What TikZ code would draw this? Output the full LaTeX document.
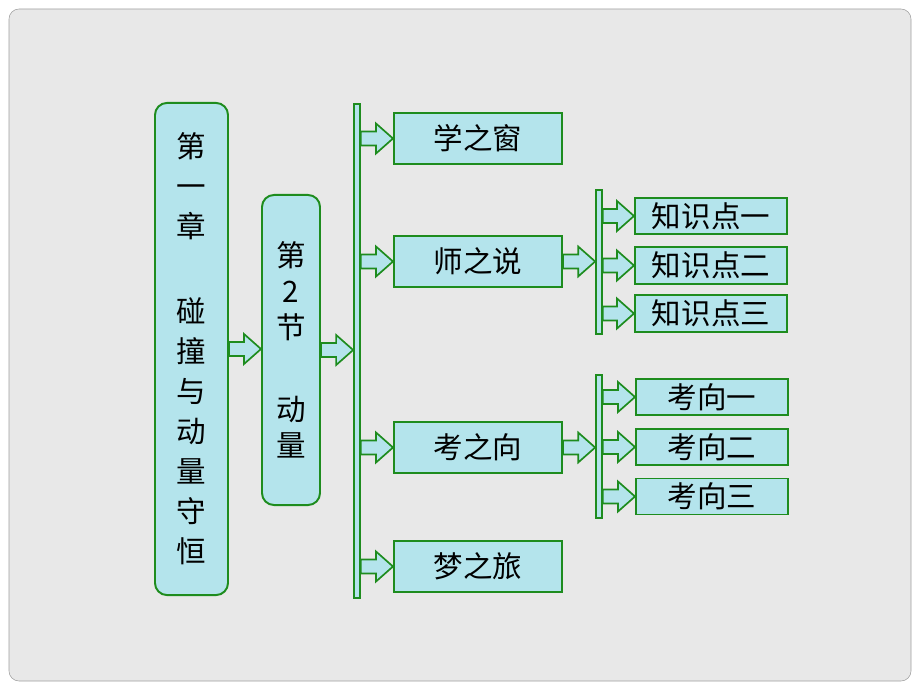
\documentclass[tikz,border=0pt]{standalone}
\usepackage{fontspec}
\usepackage{tikz}
\usetikzlibrary{calc}
\newfontfamily\cjk{Noto Sans CJK SC}

\definecolor{boxgreen}{RGB}{30,140,30}
\definecolor{boxfill}{RGB}{180,228,236}
\definecolor{slide}{RGB}{232,232,232}
\definecolor{slideedge}{RGB}{160,160,160}

\tikzset{
  box/.style={draw=boxgreen, fill=boxfill, line width=1.4pt, inner sep=0pt,
    font=\cjk\fontsize{21pt}{25pt}\selectfont},
  tallbox/.style={box, rounded corners=0.3cm, align=center},
  bar/.style={draw=boxgreen, fill=boxfill, line width=1.2pt, inner sep=0pt,
    minimum width=0.15cm},
  fatarrow/.style={draw=boxgreen, fill=boxfill, line width=1.2pt, line join=miter}
}

\newcommand{\fatarrow}[2]{%
  \draw[fatarrow] let \p1=(#1), \p2=(#2) in
    (\x1,\y1+0.175cm) -- (\x2-0.425cm,\y1+0.175cm) -- (\x2-0.425cm,\y1+0.375cm)
    -- (\x2,\y1) -- (\x2-0.425cm,\y1-0.375cm) -- (\x2-0.425cm,\y1-0.175cm)
    -- (\x1,\y1-0.175cm) -- cycle;}

\begin{document}
\begin{tikzpicture}[x=0.025cm, y=-0.025cm]
\fill[white] (0,0) rectangle (920,690);
\useasboundingbox (0,0) rectangle (920,690);
\draw[slideedge, fill=slide, rounded corners=0.25cm] (9,9) rectangle (911,681);

\node[tallbox, minimum width=1.825cm, minimum height=12.3cm,
  font=\cjk\fontsize{21pt}{28.45pt}\selectfont] (chap) at (191.5,349)
  {第\\一\\章\\[1.125cm]碰\\撞\\与\\动\\量\\守\\恒};
\node[tallbox, minimum width=1.45cm, minimum height=7.75cm,
  font=\cjk\fontsize{21pt}{25.6pt}\selectfont] (sec) at (291,350)
  {第\\2\\节\\[1.15cm]动\\量};

\node[bar, minimum height=12.35cm] (bar1) at (357,351) {};
\node[box, minimum width=4.2cm, minimum height=1.275cm] (xue) at (478,138.5) {学之窗};
\node[box, minimum width=4.2cm, minimum height=1.275cm] (shi) at (478,261.5) {师之说};
\node[box, minimum width=4.2cm, minimum height=1.275cm] (kao) at (478,447.5) {考之向};
\node[box, minimum width=4.2cm, minimum height=1.275cm] (meng) at (478,566.5) {梦之旅};

\node[bar, minimum height=3.6cm] (bar2) at (599,262) {};
\node[box, minimum width=3.8cm, minimum height=0.92cm] (zs1) at (711,216) {知识点一};
\node[box, minimum width=3.8cm, minimum height=0.92cm] (zs2) at (711,265.5) {知识点二};
\node[box, minimum width=3.8cm, minimum height=0.92cm] (zs3) at (711,313.5) {知识点三};

\node[bar, minimum height=3.575cm] (bar3) at (599,446.5) {};
\node[box, minimum width=3.8cm, minimum height=0.9cm] (kx1) at (712,397) {考向一};
\node[box, minimum width=3.8cm, minimum height=0.9cm] (kx2) at (712,447) {考向二};
\node[box, minimum width=3.8cm, minimum height=0.9cm] (kx3) at (712,496.5) {考向三};

\fatarrow{chap.east}{sec.west}
\fatarrow{sec.east}{bar1.west |- sec.east}
\fatarrow{bar1.east |- xue.west}{xue.west}
\fatarrow{bar1.east |- shi.west}{shi.west}
\fatarrow{bar1.east |- kao.west}{kao.west}
\fatarrow{bar1.east |- meng.west}{meng.west}
\fatarrow{shi.east}{bar2.west |- shi.east}
\fatarrow{bar2.east |- zs1.west}{zs1.west}
\fatarrow{bar2.east |- zs2.west}{zs2.west}
\fatarrow{bar2.east |- zs3.west}{zs3.west}
\fatarrow{kao.east}{bar3.west |- kao.east}
\fatarrow{bar3.east |- kx1.west}{kx1.west}
\fatarrow{bar3.east |- kx2.west}{kx2.west}
\fatarrow{bar3.east |- kx3.west}{kx3.west}
\end{tikzpicture}
\end{document}
